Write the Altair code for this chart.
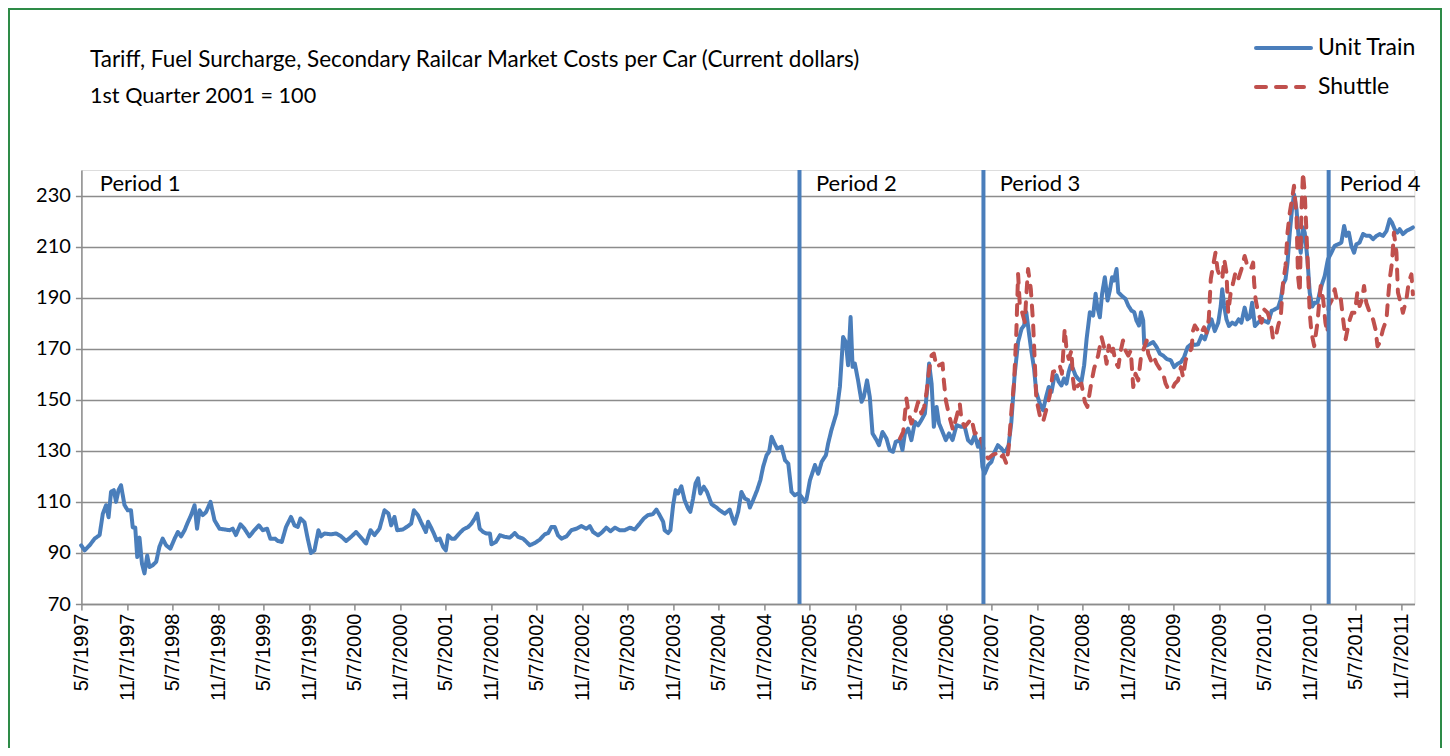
import altair as alt
import pandas as pd

# ---------------- data ----------------
unit_years = [
    1997.345, 1997.381, 1997.436, 1997.491, 1997.546, 1997.582, 1997.619, 1997.645, 1997.673, 1997.703,
    1997.728, 1997.755, 1997.783, 1997.821, 1997.857, 1997.893, 1997.912, 1997.937, 1997.959, 1997.985,
    1998.011, 1998.040, 1998.069, 1998.095, 1998.131, 1998.168, 1998.205, 1998.241, 1998.278, 1998.326,
    1998.370, 1998.406, 1998.442, 1998.480, 1998.516, 1998.552, 1998.590, 1998.618, 1998.644, 1998.681,
    1998.717, 1998.765, 1998.809, 1998.864, 1998.919, 1998.974, 1999.010, 1999.046, 1999.095, 1999.139,
    1999.194, 1999.249, 1999.296, 1999.340, 1999.387, 1999.424, 1999.475, 1999.505, 1999.548, 1999.596,
    1999.651, 1999.688, 1999.724, 1999.754, 1999.798, 1999.834, 1999.870, 1999.908, 1999.952, 1999.980,
    2000.017, 2000.090, 2000.145, 2000.200, 2000.255, 2000.310, 2000.365, 2000.420, 2000.474, 2000.523,
    2000.567, 2000.622, 2000.677, 2000.720, 2000.749, 2000.786, 2000.815, 2000.878, 2000.932, 2000.969,
    2000.998, 2001.042, 2001.079,
    2001.130, 2001.156, 2001.193, 2001.218, 2001.248, 2001.284, 2001.320, 2001.350, 2001.375, 2001.412,
    2001.449, 2001.496, 2001.540, 2001.595, 2001.632, 2001.668, 2001.694, 2001.723, 2001.760, 2001.797,
    2001.833, 2001.852, 2001.899, 2001.943, 2001.998, 2002.053, 2002.108, 2002.144, 2002.199, 2002.236,
    2002.273, 2002.327, 2002.382, 2002.437, 2002.474, 2002.511, 2002.547, 2002.583, 2002.621, 2002.676,
    2002.731, 2002.786, 2002.841, 2002.895, 2002.932, 2002.968, 2003.023, 2003.071, 2003.115, 2003.159,
    2003.206, 2003.261, 2003.316, 2003.371, 2003.426, 2003.481, 2003.525, 2003.572, 2003.627, 2003.664,
    2003.700, 2003.737, 2003.755, 2003.792, 2003.818, 2003.847, 2003.876, 2003.902, 2003.939, 2003.975,
    2004.011, 2004.038, 2004.066, 2004.093, 2004.121, 2004.147, 2004.184, 2004.220, 2004.268, 2004.323,
    2004.360, 2004.414, 2004.469, 2004.506, 2004.524, 2004.561, 2004.598, 2004.634, 2004.671, 2004.689,
    2004.725, 2004.769, 2004.806, 2004.835, 2004.872, 2004.901, 2004.927, 2004.953, 2004.989, 2005.037,
    2005.074, 2005.110, 2005.147, 2005.183, 2005.220, 2005.257, 2005.293, 2005.312,
    2005.348, 2005.403, 2005.439, 2005.477, 2005.524, 2005.549, 2005.586, 2005.641, 2005.678, 2005.714,
    2005.744, 2005.769, 2005.795, 2005.817, 2005.842, 2005.879, 2005.916, 2005.941, 2005.978, 2006.007,
    2006.037, 2006.081, 2006.109, 2006.147, 2006.191, 2006.227, 2006.263, 2006.293, 2006.337, 2006.366,
    2006.392, 2006.428, 2006.465, 2006.502, 2006.538, 2006.575, 2006.611, 2006.636, 2006.658, 2006.685,
    2006.710, 2006.740, 2006.768, 2006.806, 2006.842, 2006.878, 2006.916, 2006.960, 2007.014, 2007.051,
    2007.087, 2007.124, 2007.161, 2007.197, 2007.223, 2007.245, 2007.271,
    2007.307, 2007.344, 2007.380, 2007.416, 2007.454, 2007.482, 2007.509, 2007.534, 2007.564, 2007.600,
    2007.636, 2007.674, 2007.702, 2007.728, 2007.754, 2007.783, 2007.812, 2007.838, 2007.874, 2007.911,
    2007.948, 2007.973, 2008.003, 2008.032, 2008.058, 2008.083, 2008.113, 2008.141, 2008.168, 2008.193,
    2008.215, 2008.240, 2008.267, 2008.295, 2008.333, 2008.361, 2008.388, 2008.424, 2008.460, 2008.487,
    2008.508, 2008.534, 2008.559, 2008.589, 2008.618, 2008.643, 2008.669, 2008.691, 2008.717, 2008.735,
    2008.772, 2008.816, 2008.845, 2008.882, 2008.910, 2008.937, 2008.962, 2008.984, 2009.009, 2009.020,
    2009.047, 2009.083, 2009.119, 2009.157, 2009.193, 2009.229, 2009.266, 2009.313, 2009.350, 2009.387,
    2009.423, 2009.460, 2009.497, 2009.541, 2009.577,
    2009.613, 2009.651, 2009.687, 2009.723, 2009.760, 2009.797, 2009.833, 2009.863, 2009.877, 2009.899,
    2009.925, 2009.951, 2009.987, 2010.024, 2010.060, 2010.090, 2010.126, 2010.156, 2010.181, 2010.206,
    2010.236, 2010.272, 2010.310, 2010.346, 2010.382, 2010.420, 2010.456, 2010.492, 2010.522, 2010.547,
    2010.574, 2010.595, 2010.621, 2010.646, 2010.668, 2010.694, 2010.719, 2010.741, 2010.767, 2010.785,
    2010.815, 2010.840, 2010.866, 2010.895, 2010.925, 2010.950, 2010.975, 2011.005, 2011.041, 2011.079,
    2011.115, 2011.151, 2011.189, 2011.217, 2011.243, 2011.269, 2011.298, 2011.327, 2011.353, 2011.389,
    2011.426, 2011.463, 2011.499, 2011.536, 2011.573, 2011.609, 2011.645, 2011.683, 2011.719, 2011.744,
    2011.774, 2011.803, 2011.829, 2011.865, 2011.903, 2011.939, 2011.975,
]
unit_values = [
    93, 91, 93, 95.6, 97, 105.4, 108.7, 104, 114, 114.6,
    110, 114.6, 116.5, 108.7, 106.7, 106.7, 100, 100, 88.4, 96,
    85.8, 82, 89, 84.5, 85.2, 86.5, 92.4, 95.6, 93, 91.7,
    95.6, 98.2, 96.5, 98.9, 102, 104.8, 108.7, 99.5, 106.7, 104.8,
    106, 110, 102.8, 99.5, 99.2, 98.9, 99.5, 97, 101.2, 99.5,
    96.5, 98.9, 100.8, 98.9, 99.5, 95.6, 95.6, 94.7, 94.3, 100.2,
    104.1, 100.8, 100.2, 103.5, 102, 95.6, 90, 91, 98.9, 96.5,
    97.6, 97.3, 97.6, 96.5, 94.7, 96.3, 98.2, 96, 93.7, 98.9,
    97, 99.5, 106.7, 105.4, 100.8, 104.1, 98.9, 99.2, 100.5, 101.5,
    106.7, 104.8, 102,
    98.2, 102.2, 99.5, 97.6, 95, 95.6, 92.4, 91, 96.9, 95.6,
    95.6, 97.6, 99.2, 100.2, 101.5, 103.5, 105.4, 99.5, 98.2, 97.6,
    97.6, 93.4, 94.3, 96.9, 96.3, 96, 97.8, 96.3, 95.6, 94.3,
    93, 93.9, 95.2, 97.3, 97.8, 100.2, 100.2, 96.9, 95.6, 96.5,
    98.9, 99.5, 100.5, 99.5, 100.5, 98.2, 96.9, 98.2, 99.9, 98.5,
    99.9, 98.9, 98.9, 99.9, 99.2, 101.5, 103.5, 104.8, 105.2, 107,
    104.8, 102.2, 98.9, 97.8, 98.9, 108.7, 114.6, 113.3, 116.1, 110.7,
    107.4, 106.1, 111.3, 117.2, 119.2, 113.3, 115.9, 113.9, 109.1, 107.8,
    106.7, 105.4, 107, 102.8, 101.5, 106.1, 113.9, 111.3, 110.7, 107.8,
    110.7, 114.6, 118.5, 123.7, 128.3, 129.6, 135.5, 133.5, 130.9, 131.6,
    126.3, 125, 113.9, 112.6, 113.3, 112, 110, 111,
    118.5, 124.4, 121, 125.7, 128.3, 132.9, 138.1, 144.6, 155, 174.6,
    172.6, 163.5, 182.4, 162.9, 164.2, 157.6, 149.2, 151.1, 157.6, 151.1,
    136.8, 134.2, 132.2, 137.4, 134.8, 130.3, 129.6, 133.5, 134.2, 130.3,
    136.8, 138.7, 134.2, 141.3, 140, 142, 144.6, 153.7, 164.2, 156.3,
    139.4, 147.2, 140.7, 137.4, 134.2, 136.8, 134.2, 140, 139.4, 139.4,
    134.2, 132.9, 136.1, 131.6, 134.2, 123.7, 121.1,
    124.4, 125.7, 129.6, 132.2, 130.9, 129.6, 130.3, 132.2, 141.3, 159.6,
    172.6, 177.8, 179.1, 184.3, 176.5, 169.3, 162.2, 153, 148.5, 145.9,
    151.7, 155, 153, 158.3, 159.6, 157, 155.6, 158.3, 156.3, 160.9,
    163.5, 162.2, 159.6, 158.3, 157, 163.5, 173.9, 184.3, 183, 191.5,
    186.2, 182.3, 191.5, 198, 188.9, 192.8, 198, 196.7, 201.2, 192.1,
    190.8, 189.5, 186.9, 184.9, 184.3, 181, 179.1, 184.3, 181, 171.9,
    171.3, 171.9, 172.6, 170.6, 168, 167.3, 166, 165.4, 162.8, 164.1,
    164.7, 166.7, 170.6, 171.9, 171.5,
    171.7, 175, 173.7, 177.6, 181.5, 176.9, 180.2, 186.7, 193.3, 186.7,
    181.5, 178.9, 180.2, 179.5, 181.5, 180.2, 186.1, 181.5, 182.2, 188,
    178.9, 180.2, 181.5, 180.8, 180.2, 184.8, 185.4, 186.1, 189.3, 195.2,
    197.2, 203.7, 215.5, 224.6, 230.5, 224.6, 212.9, 207.6, 217.5, 215.5,
    205, 192, 186.5, 188, 188, 192, 195.2, 198.4, 205, 207.6,
    210.3, 210.9, 211.6, 218.1, 214.2, 215.5, 210.3, 207.6, 210.9, 211.6,
    214.9, 214.2, 214.2, 212.9, 214.2, 214.9, 214.2, 216.1, 220.7, 219.4,
    216.8, 215.5, 216.8, 214.9, 216.1, 216.8, 217.5,
]

shuttle_years = [
    2006.337, 2006.373, 2006.410, 2006.428, 2006.465, 2006.502, 2006.538, 2006.575, 2006.604, 2006.630,
    2006.658, 2006.685, 2006.710, 2006.740, 2006.768, 2006.806, 2006.820, 2006.842, 2006.878, 2006.922,
    2006.960, 2006.996, 2007.014, 2007.051, 2007.124, 2007.161, 2007.197, 2007.234, 2007.271, 2007.307,
    2007.351, 2007.399, 2007.435, 2007.472, 2007.509, 2007.534, 2007.564, 2007.592, 2007.618, 2007.636,
    2007.655, 2007.680, 2007.710, 2007.728, 2007.746, 2007.776, 2007.801, 2007.820, 2007.838, 2007.874,
    2007.911, 2007.948, 2007.985, 2008.021, 2008.058, 2008.094, 2008.120, 2008.149, 2008.168, 2008.193,
    2008.223, 2008.240, 2008.259, 2008.295, 2008.333, 2008.369, 2008.398, 2008.435, 2008.471, 2008.514,
    2008.552, 2008.581, 2008.607, 2008.632, 2008.654, 2008.680, 2008.706, 2008.735, 2008.764, 2008.789,
    2008.816, 2008.845, 2008.874, 2008.899, 2008.925, 2008.954, 2008.984, 2009.009, 2009.047, 2009.064,
    2009.094, 2009.119, 2009.157, 2009.193, 2009.229, 2009.255, 2009.284, 2009.321, 2009.357, 2009.394,
    2009.423, 2009.449, 2009.475, 2009.504, 2009.541, 2009.558, 2009.577, 2009.613, 2009.643, 2009.679,
    2009.706, 2009.731, 2009.742, 2009.753, 2009.778, 2009.804, 2009.826, 2009.852, 2009.877, 2009.899,
    2009.925, 2009.943, 2009.972, 2009.998, 2010.024, 2010.053, 2010.090, 2010.126, 2010.156, 2010.192,
    2010.218, 2010.229, 2010.244, 2010.272, 2010.310, 2010.338, 2010.376, 2010.412, 2010.437, 2010.464,
    2010.492, 2010.522, 2010.547, 2010.574, 2010.595, 2010.621, 2010.646, 2010.668, 2010.694, 2010.712,
    2010.730, 2010.749, 2010.767, 2010.785, 2010.804, 2010.822, 2010.840, 2010.859, 2010.888, 2010.925,
    2010.961, 2010.987, 2011.013, 2011.035, 2011.049, 2011.085, 2011.115, 2011.145, 2011.181, 2011.206,
    2011.233, 2011.255, 2011.280, 2011.305, 2011.335, 2011.364, 2011.389, 2011.415, 2011.437, 2011.463,
    2011.499, 2011.536, 2011.562, 2011.584, 2011.609, 2011.645, 2011.683, 2011.700, 2011.719, 2011.744,
    2011.766, 2011.792, 2011.810, 2011.840, 2011.865, 2011.903, 2011.928, 2011.957, 2011.975,
]
shuttle_values = [
    134.8, 137.4, 150.5, 145.9, 140.7, 144.6, 149.2, 144.6, 147.2, 152.4,
    161.6, 167.4, 168.1, 162.9, 163.5, 164.2, 157.6, 149.8, 144, 138.1,
    143.3, 148.5, 142, 139.4, 142.6, 136.8, 137.4, 134.2, 129, 127,
    128.3, 129, 127, 128.3, 125, 131, 145.2, 157, 176.5, 199.3,
    186.9, 184.3, 180.4, 190.8, 201.2, 193.4, 180.4, 164.8, 150.4, 143.9,
    141.3, 146.5, 151.7, 160.9, 161.5, 163.5, 160.2, 177.8, 170, 166,
    169.3, 158.3, 153, 155.6, 156.3, 149.1, 147.2, 155.6, 162.2, 167.3,
    174.5, 170.6, 164.1, 171.3, 167.3, 170, 164.7, 162.8, 169.3, 173.2,
    169.3, 167.3, 169.3, 155, 160.2, 157.6, 166.7, 169.3, 173.2, 168,
    165.4, 167.3, 164.1, 162.1, 160.2, 156.3, 154.3, 153.7, 156.3, 157.6,
    162.8, 158.9, 165.4, 168, 170, 177.1, 179.1, 177.1, 175.8, 178.4,
    176.3, 181.5, 189.3, 197.2, 202.4, 207.6, 201.1, 198.5, 197.2, 205,
    199.8, 184.1, 192, 195.9, 199.8, 197.2, 201.1, 206.3, 202.4, 201.1,
    203.7, 195.9, 189.3, 184.1, 180.2, 185.4, 184.1, 180.2, 173.7, 174.3,
    178.9, 182.8, 195.9, 202.4, 215.5, 223.3, 228.6, 233.8, 222, 198.5,
    192, 224.6, 239, 231.2, 215.5, 198.5, 184.1, 176.3, 171, 180.2,
    194.6, 189.3, 180.2, 176.3, 186.7, 189.3, 193.3, 188, 189.3, 181.5,
    173.7, 177.6, 181.5, 184.1, 184.1, 192, 186.7, 189.3, 194.6, 188,
    184.1, 181.5, 177.6, 171, 172.4, 177.6, 181.5, 189.3, 197.2, 203.7,
    215.5, 207.6, 192, 188, 184.1, 189.3, 195.9, 199.1, 191.3,
]

series_names = ["Unit Train", "Shuttle"]
series_colors = ["#4A7EBB", "#C0504D"]
series_dashes = [[1, 0], [10, 10]]

title_text = "Tariff, Fuel Surcharge, Secondary Railcar Market Costs per Car (Current dollars)"
subtitle_text = "1st Quarter 2001 = 100"

period_labels = ["Period 1", "Period 2", "Period 3", "Period 4"]
period_label_years = [1997.550, 2005.414, 2007.435, 2011.170]
period_label_value = 234.6
period_line_years = [2005.234, 2007.255, 2011.049]

y_ticks = [70, 90, 110, 130, 150, 170, 190, 210, 230]
x_tick_years = list(range(1997, 2012))
x_tick_months = [5, 11]

assert len(unit_years) == len(unit_values), (len(unit_years), len(unit_values))
assert len(shuttle_years) == len(shuttle_values), (len(shuttle_years), len(shuttle_values))


def to_date(t):
    y = int(t)
    start = pd.Timestamp(y, 1, 1)
    end = pd.Timestamp(y + 1, 1, 1)
    return (start + (end - start) * (t - y)).normalize()


unit_df = pd.DataFrame({"date": [to_date(t) for t in unit_years], "value": unit_values,
                        "series": series_names[0]})
shuttle_df = pd.DataFrame({"date": [to_date(t) for t in shuttle_years], "value": shuttle_values,
                           "series": series_names[1]})
label_df = pd.DataFrame({"date": [to_date(t) for t in period_label_years],
                         "value": period_label_value, "label": period_labels})
rule_df = pd.DataFrame({"date": [to_date(t) for t in period_line_years]})

x_ticks = [alt.DateTime(year=y, month=m, date=7) for y in x_tick_years for m in x_tick_months]

GRAY = "#8C8C8C"
FONT = "Lato"
x_scale = alt.Scale(domain=[alt.DateTime(year=1997, month=5, date=7),
                            alt.DateTime(year=2011, month=12, date=28)])
y_scale = alt.Scale(domain=[70, 240], nice=False, zero=False)
color_scale = alt.Scale(domain=series_names, range=series_colors)
dash_scale = alt.Scale(domain=series_names, range=series_dashes)

x_enc = alt.X("date:T", scale=x_scale, title=None,
              axis=alt.Axis(values=x_ticks, format="%-m/%-d/%Y", labelAngle=270,
                            labelAlign="right", labelBaseline="middle", labelFlush=False,
                            labelOverlap=False, labelFont="Liberation Sans", labelFontSize=20,
                            labelColor="black", labelPadding=3, grid=False,
                            domainColor=GRAY, domainWidth=1.5, tickColor=GRAY,
                            tickWidth=1.5, tickSize=6))
y_enc = alt.Y("value:Q", scale=y_scale, title=None,
              axis=alt.Axis(values=y_ticks, grid=True, gridColor=GRAY, gridWidth=1.5,
                            domainColor=GRAY, domainWidth=1.5, tickColor=GRAY, tickWidth=1.5,
                            tickSize=6, labelFont=FONT, labelFontSize=20, labelColor="black",
                            labelPadding=5))
color_enc = alt.Color("series:N", scale=color_scale, legend=None)
dash_enc = alt.StrokeDash("series:N", scale=dash_scale, legend=None)

# green outer frame (decoration)
frame = alt.Chart(pd.DataFrame({"k": [0]})).mark_rect(
    fillOpacity=0, stroke="#2E8B47", strokeWidth=2
).encode(x=alt.value(-72.4), x2=alt.value(1359.6), y=alt.value(-161), y2=alt.value(600))

# title lines (as text)
title_df = pd.DataFrame({"t": [title_text]})
sub_df = pd.DataFrame({"t": [subtitle_text]})
title_mark = alt.Chart(title_df).mark_text(align="left", baseline="middle", font=FONT,
                                            fontSize=22.5, color="black").encode(
    x=alt.value(8.6), y=alt.value(-110), text="t:N")
sub_mark = alt.Chart(sub_df).mark_text(align="left", baseline="middle", font=FONT,
                                        fontSize=21.6, color="black").encode(
    x=alt.value(8.6), y=alt.value(-73), text="t:N")

unit = alt.Chart(unit_df).mark_line(strokeWidth=4, strokeJoin="round", strokeCap="round").encode(
    x=x_enc, y=y_enc, color=color_enc, strokeDash=dash_enc)
shuttle = alt.Chart(shuttle_df).mark_line(strokeWidth=4, strokeJoin="round", strokeCap="round").encode(
    x=x_enc, y=y_enc, color=color_enc, strokeDash=dash_enc)

rules = alt.Chart(rule_df).mark_rule(color="#4A7EBB", strokeWidth=4).encode(x=x_enc)

labels = alt.Chart(label_df).mark_text(align="left", baseline="middle", font=FONT,
                                       fontSize=22, color="black").encode(
    x=x_enc, y=y_enc, text="label:N")

# legend (drawn with the series colour / dash scales)
leg_unit_df = pd.DataFrame({"series": [series_names[0]]})
leg_shut_df = pd.DataFrame({"series": [series_names[1]]})
leg_unit_line = alt.Chart(leg_unit_df).mark_rule(strokeWidth=4, strokeCap="round").encode(
    x=alt.value(1174.6), x2=alt.value(1229.6), y=alt.value(-122),
    color=color_enc, strokeDash=dash_enc)
leg_shut_line = alt.Chart(leg_shut_df).mark_rule(strokeWidth=4, strokeCap="round").encode(
    x=alt.value(1174.6), x2=alt.value(1222.6), y=alt.value(-83),
    color=color_enc, strokeDash=dash_enc)
leg_unit_text = alt.Chart(leg_unit_df).mark_text(align="left", baseline="middle", font=FONT,
                                                 fontSize=23, color="black").encode(
    x=alt.value(1236.6), y=alt.value(-122), text="series:N")
leg_shut_text = alt.Chart(leg_shut_df).mark_text(align="left", baseline="middle", font=FONT,
                                                 fontSize=23, color="black").encode(
    x=alt.value(1236.6), y=alt.value(-83), text="series:N")

chart = alt.layer(
    frame, title_mark, sub_mark, unit, shuttle, rules, labels,
    leg_unit_line, leg_shut_line, leg_unit_text, leg_shut_text
).properties(
    width=1333, height=434,
    autosize=alt.AutoSizeParams(type="none"),
    padding={"left": 73.4, "top": 162, "right": 27.6, "bottom": 144},
).configure_view(stroke=None).configure(background="white")

chart.save("out.html", embed_options={"renderer": "svg", "actions": False})
